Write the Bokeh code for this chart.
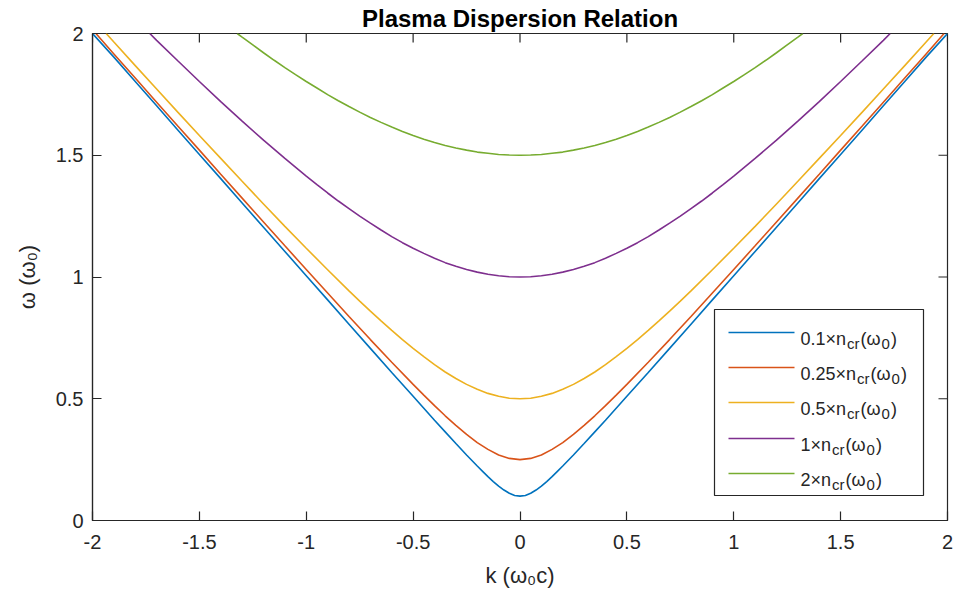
from bokeh.plotting import figure
from bokeh.models import Range1d, FixedTicker
from bokeh.embed import file_html
from bokeh.resources import INLINE
from bokeh.core.properties import value

# ---------------- data ----------------
k_01 = [-2.0, -1.9, -1.8, -1.7, -1.6, -1.5, -1.4, -1.3, -1.2, -1.1, -1.0, -0.9, -0.8, -0.7, -0.6,
        -0.5, -0.4, -0.35, -0.3, -0.25, -0.2, -0.175, -0.15, -0.125, -0.1, -0.075, -0.05, -0.025,
        0.0, 0.025, 0.05, 0.075, 0.1, 0.125, 0.15, 0.175, 0.2, 0.25, 0.3, 0.35, 0.4, 0.5,
        0.6, 0.7, 0.8, 0.9, 1.0, 1.1, 1.2, 1.3, 1.4, 1.5, 1.6, 1.7, 1.8, 1.9, 2.0]
w_01 = [2.0, 1.903, 1.803, 1.703, 1.603, 1.503, 1.404, 1.304, 1.204, 1.105, 1.005, 0.906, 0.806, 0.707, 0.608,
        0.510, 0.412, 0.364, 0.316, 0.269, 0.224, 0.202, 0.180, 0.160, 0.141, 0.125, 0.112, 0.103,
        0.100, 0.103, 0.112, 0.125, 0.141, 0.160, 0.180, 0.202, 0.224, 0.269, 0.316, 0.364, 0.412, 0.510,
        0.608, 0.707, 0.806, 0.906, 1.005, 1.105, 1.204, 1.304, 1.404, 1.503, 1.603, 1.703, 1.803, 1.903, 2.0]

k_025 = [-1.984, -1.9, -1.8, -1.7, -1.6, -1.5, -1.4, -1.3, -1.2, -1.1, -1.0, -0.9, -0.8, -0.7, -0.6,
         -0.5, -0.45, -0.4, -0.35, -0.3, -0.25, -0.2, -0.15, -0.1, -0.05, 0.0, 0.05, 0.1, 0.15, 0.2,
         0.25, 0.3, 0.35, 0.4, 0.45, 0.5,
         0.6, 0.7, 0.8, 0.9, 1.0, 1.1, 1.2, 1.3, 1.4, 1.5, 1.6, 1.7, 1.8, 1.9, 1.984]
w_025 = [2.0, 1.916, 1.817, 1.718, 1.619, 1.521, 1.422, 1.324, 1.226, 1.128, 1.031, 0.934, 0.838, 0.743, 0.650,
         0.559, 0.515, 0.472, 0.430, 0.391, 0.354, 0.320, 0.292, 0.269, 0.255, 0.250, 0.255, 0.269, 0.292, 0.320,
         0.354, 0.391, 0.430, 0.472, 0.515, 0.559,
         0.650, 0.743, 0.838, 0.934, 1.031, 1.128, 1.226, 1.324, 1.422, 1.521, 1.619, 1.718, 1.817, 1.916, 2.0]

k_05 = [-1.936, -1.9, -1.8, -1.7, -1.6, -1.5, -1.4, -1.3, -1.2, -1.1, -1.0, -0.9, -0.8, -0.75, -0.7,
        -0.65, -0.6, -0.55, -0.5, -0.45, -0.4, -0.35, -0.3, -0.25, -0.2, -0.15, -0.1, -0.05, 0.0,
        0.05, 0.1, 0.15, 0.2, 0.25, 0.3, 0.35, 0.4, 0.45, 0.5, 0.55, 0.6, 0.65, 0.7, 0.75, 0.8,
        0.9, 1.0, 1.1, 1.2, 1.3, 1.4, 1.5, 1.6, 1.7, 1.8, 1.9, 1.936]
w_05 = [2.0, 1.965, 1.868, 1.772, 1.676, 1.581, 1.487, 1.393, 1.300, 1.208, 1.118, 1.030, 0.943, 0.901, 0.860,
        0.820, 0.781, 0.743, 0.707, 0.673, 0.640, 0.610, 0.583, 0.559, 0.539, 0.522, 0.510, 0.502, 0.500,
        0.502, 0.510, 0.522, 0.539, 0.559, 0.583, 0.610, 0.640, 0.673, 0.707, 0.743, 0.781, 0.820, 0.860, 0.901, 0.943,
        1.030, 1.118, 1.208, 1.300, 1.393, 1.487, 1.581, 1.676, 1.772, 1.868, 1.965, 2.0]

k_1 = [-1.732, -1.7, -1.6, -1.5, -1.4, -1.3, -1.2, -1.1, -1.0, -0.95, -0.9, -0.85, -0.8, -0.75, -0.7,
       -0.65, -0.6, -0.55, -0.5, -0.45, -0.4, -0.35, -0.3, -0.25, -0.2, -0.15, -0.1, -0.05, 0.0,
       0.05, 0.1, 0.15, 0.2, 0.25, 0.3, 0.35, 0.4, 0.45, 0.5, 0.55, 0.6, 0.65, 0.7, 0.75, 0.8,
       0.85, 0.9, 0.95, 1.0, 1.1, 1.2, 1.3, 1.4, 1.5, 1.6, 1.7, 1.732]
w_1 = [2.0, 1.972, 1.887, 1.803, 1.720, 1.640, 1.562, 1.487, 1.414, 1.379, 1.345, 1.312, 1.281, 1.250, 1.221,
       1.193, 1.166, 1.141, 1.118, 1.097, 1.077, 1.059, 1.044, 1.031, 1.020, 1.011, 1.005, 1.001, 1.000,
       1.001, 1.005, 1.011, 1.020, 1.031, 1.044, 1.059, 1.077, 1.097, 1.118, 1.141, 1.166, 1.193, 1.221, 1.250, 1.281,
       1.312, 1.345, 1.379, 1.414, 1.487, 1.562, 1.640, 1.720, 1.803, 1.887, 1.972, 2.0]

k_2 = [-1.323, -1.3, -1.25, -1.2, -1.15, -1.1, -1.05, -1.0, -0.95, -0.9, -0.85, -0.8, -0.75, -0.7,
       -0.65, -0.6, -0.55, -0.5, -0.45, -0.4, -0.35, -0.3, -0.25, -0.2, -0.15, -0.1, -0.05, 0.0,
       0.05, 0.1, 0.15, 0.2, 0.25, 0.3, 0.35, 0.4, 0.45, 0.5, 0.55, 0.6, 0.65, 0.7,
       0.75, 0.8, 0.85, 0.9, 0.95, 1.0, 1.05, 1.1, 1.15, 1.2, 1.25, 1.3, 1.323]
w_2 = [2.0, 1.985, 1.953, 1.921, 1.890, 1.860, 1.831, 1.803, 1.776, 1.749, 1.724, 1.700, 1.677, 1.655,
       1.635, 1.616, 1.598, 1.581, 1.566, 1.552, 1.540, 1.530, 1.521, 1.513, 1.508, 1.503, 1.501, 1.500,
       1.501, 1.503, 1.508, 1.513, 1.521, 1.530, 1.540, 1.552, 1.566, 1.581, 1.598, 1.616, 1.635, 1.655,
       1.677, 1.700, 1.724, 1.749, 1.776, 1.803, 1.831, 1.860, 1.890, 1.921, 1.953, 1.985, 2.0]

series_k = [k_01, k_025, k_05, k_1, k_2]
series_w = [w_01, w_025, w_05, w_1, w_2]
legend_coef = ["0.1", "0.25", "0.5", "1", "2"]
colors = ["#0072BD", "#D95319", "#EDB120", "#7E2F8E", "#77AC30"]

x_ticks = [-2, -1.5, -1, -0.5, 0, 0.5, 1, 1.5, 2]
x_tick_labels = ["-2", "-1.5", "-1", "-0.5", "0", "0.5", "1", "1.5", "2"]
y_ticks = [0, 0.5, 1, 1.5, 2]
y_tick_labels = ["0", "0.5", "1", "1.5", "2"]
title_text = "Plasma Dispersion Relation"

# ---------------- layout ----------------
W, H = 953, 601
FL, FR, FT, FB = 92, 947, 33, 520   # frame edges in pixels
FONT = "Liberation Sans"
AX = "#262626"
TICK = 9

p = figure(width=W, height=H, output_backend="svg", toolbar_location=None,
           x_range=Range1d(-2, 2), y_range=Range1d(0, 2),
           min_border_left=FL, min_border_right=W - FR, min_border_top=FT, min_border_bottom=H - FB,
           x_axis_label="k (ω₀c)", y_axis_label="ω (ω₀)")
p.background_fill_color = "white"
p.border_fill_color = "white"
p.outline_line_color = AX
p.outline_line_width = 1.2
p.grid.visible = False

p.title.text = title_text
p.title.align = "center"
p.title.text_font = FONT
p.title.text_font_style = "bold"
p.title.text_font_size = "24px"
p.title.text_color = "black"
p.title.standoff = 4

for ax in p.xaxis + p.yaxis:
    ax.major_tick_in = TICK
    ax.major_tick_out = 0
    ax.minor_tick_line_color = None
    ax.axis_line_color = AX
    ax.axis_line_width = 1.2
    ax.major_tick_line_color = AX
    ax.major_tick_line_width = 1.2
    ax.major_label_text_font = FONT
    ax.major_label_text_font_size = "20px"
    ax.major_label_text_color = AX
    ax.axis_label_text_font = FONT
    ax.axis_label_text_font_size = "22px"
    ax.axis_label_text_font_style = "normal"
    ax.axis_label_text_color = AX
p.xaxis.ticker = FixedTicker(ticks=x_ticks)
p.yaxis.ticker = FixedTicker(ticks=y_ticks)
p.xaxis.major_label_overrides = dict(zip(x_ticks, x_tick_labels))
p.yaxis.major_label_overrides = dict(zip(y_ticks, y_tick_labels))
p.xaxis.major_label_standoff = 14
p.yaxis.major_label_standoff = 9
p.xaxis.axis_label_standoff = 11
p.yaxis.axis_label_standoff = 13

def xd(px):
    return -2 + (px - FL) * 4.0 / (FR - FL)

def yd(py):
    return (FB - py) * 2.0 / (FB - FT)

# inward ticks on the top and right edges of the box
dy_tick = TICK * 2.0 / (FB - FT)
dx_tick = TICK * 4.0 / (FR - FL)
p.segment(x0=x_ticks, y0=[2] * len(x_ticks), x1=x_ticks, y1=[2 - dy_tick] * len(x_ticks),
          line_color=AX, line_width=1.2)
p.segment(x0=[2] * len(y_ticks), y0=y_ticks, x1=[2 - dx_tick] * len(y_ticks), y1=y_ticks,
          line_color=AX, line_width=1.2)

for kk, ww, c in zip(series_k, series_w, colors):
    p.line(kk, ww, line_color=c, line_width=1.6)

# ---------------- legend (hand-built for sub-scripts) ----------------
p.quad(left=[xd(714)], right=[xd(923)], top=[yd(309)], bottom=[yd(495)],
       fill_color="white", line_color=AX, line_width=1.2)

MAIN, SUB = 18, 15
ADV = {"0": .556, "1": .556, "2": .556, "5": .556, ".": .278, "×": .584, "n": .556,
       "c": .5, "r": .333, "(": .333, ")": .333, "ω": .78}

def width(s, size):
    return sum(ADV.get(ch, .556) for ch in s) * size + 1

rows_px = [332, 367, 402, 438, 473]
for coef, c, ry in zip(legend_coef, colors, rows_px):
    p.line([xd(728), xd(794)], [yd(ry), yd(ry)], line_color=c, line_width=1.6)
    x = 800
    base = ry + 6
    pieces = [(coef + "×n", MAIN, 0), ("cr", SUB, 5), ("(ω", MAIN, 0), ("0", SUB, 5), (")", MAIN, 0)]
    for txt, size, dy in pieces:
        p.text(x=[xd(x)], y=[yd(base + dy)], text=[txt], text_font=value(FONT),
               text_font_size=f"{size}px", text_color=AX, text_baseline="alphabetic",
               text_align="left")
        x += width(txt, size)

open("out.html", "w").write(file_html(p, INLINE))
